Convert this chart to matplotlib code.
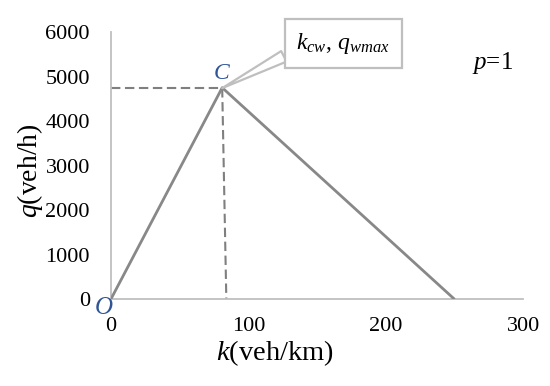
import matplotlib
matplotlib.use("Agg")
import matplotlib.pyplot as plt

plt.rcParams['font.family'] = ['Liberation Serif', 'DejaVu Serif']
plt.rcParams['mathtext.fontset'] = 'custom'
plt.rcParams['mathtext.rm'] = 'Liberation Serif'
plt.rcParams['mathtext.it'] = 'Liberation Serif:italic'

# fundamental diagram (triangular) for p=1
k = [0, 81, 250]
q = [0, 4750, 0]
k_cw = 81
k_dash_end = 84   # dashed drop line in the source is slightly slanted
q_wmax = 4740

xticks = [0, 100, 200, 300]
yticks = [0, 1000, 2000, 3000, 4000, 5000, 6000]

fig = plt.figure(figsize=(5.5, 3.86), dpi=100)
ax = fig.add_axes([0.2015, 0.2246, 0.75, 0.6925])

ax.plot(k, q, color='#888888', lw=2.0, solid_capstyle='butt', zorder=3)
ax.plot([0, k_cw], [q_wmax, q_wmax], color='#7f7f7f', lw=1.5, ls=(0, (4.5, 2.2)), zorder=2)
ax.plot([k_cw, k_dash_end], [q_wmax, 0], color='#7f7f7f', lw=1.5, ls=(0, (4.5, 2.2)), zorder=2)

ax.set_xlim(0, 300)
ax.set_ylim(0, 6000)
ax.set_xticks(xticks)
ax.set_yticks(yticks)
ax.tick_params(length=0, labelsize=16)
ax.tick_params(axis='y', pad=15)
ax.tick_params(axis='x', pad=13)

for s in ['top', 'right']:
    ax.spines[s].set_visible(False)
for s in ['left', 'bottom']:
    ax.spines[s].set_color('#bfbfbf')
    ax.spines[s].set_linewidth(1.3)

ax.text(0.398, -0.203, '$k$(veh/km)', transform=ax.transAxes, fontsize=20.5,
        ha='center', va='center')
ax.text(-0.196, 0.483, '$q$(veh/h)', transform=ax.transAxes, fontsize=20,
        ha='center', va='center', rotation=90)

ax.text(k_cw, q_wmax + 330, '$C$', color='#2f5597', fontsize=17,
        ha='center', va='center')
ax.text(-5.5, -200, '$O$', color='#2f5597', fontsize=18, ha='center', va='center')
ax.text(0.926, 0.884, '$p$=1', transform=ax.transAxes, fontsize=18,
        ha='center', va='center')

ax.annotate('$k_{cw}$, $q_{wmax}$', xy=(k_cw, q_wmax), xytext=(169, 5740),
            fontsize=17, ha='center', va='center',
            bbox=dict(boxstyle='square,pad=0.5', fc='white', ec='#bfbfbf', lw=1.6),
            arrowprops=dict(arrowstyle='wedge,tail_width=0.5,shrink_factor=0.5',
                            fc='white', ec='#bfbfbf', lw=1.6,
                            relpos=(0.0, 0.25), shrinkA=0, shrinkB=0),
            zorder=5)

fig.savefig('out.png', dpi=100)
